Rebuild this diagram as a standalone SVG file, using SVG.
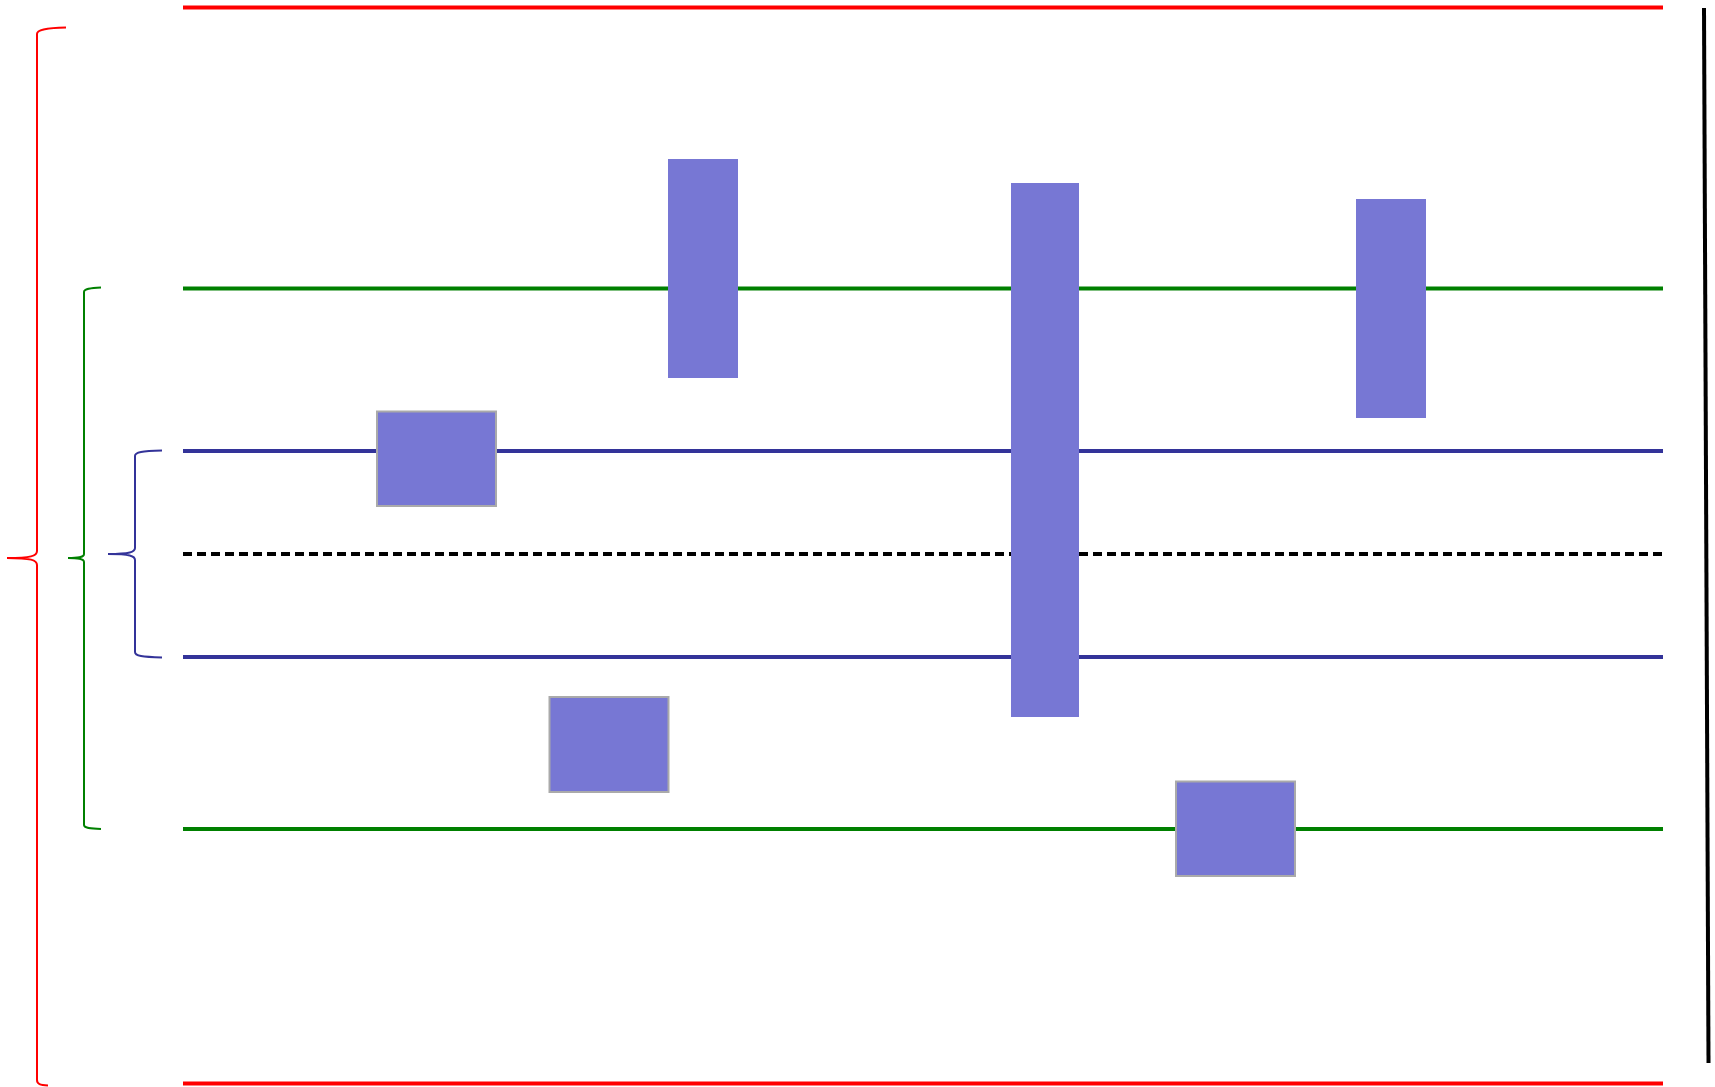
<svg xmlns="http://www.w3.org/2000/svg" width="1715" height="1087" viewBox="0 0 1715 1087">
<style>
.ln{stroke-width:4;fill:none}
.red{stroke:#ff0000}
.green{stroke:#008000}
.blue{stroke:#333399}
.dash{stroke:#000;stroke-dasharray:9,5}
.br{fill:none;stroke-width:2}
.bar{fill:#7777d4}
.box{fill:#7777d4;stroke:#aaaaaa;stroke-width:2}
</style>
<rect width="1715" height="1087" fill="#fff"/>
<g id="connectors">
<line class="ln red" x1="183" y1="7.5" x2="1663" y2="7.5"/>
<line class="ln green" x1="183" y1="288.5" x2="1663" y2="288.5"/>
<line class="ln blue" x1="183" y1="451" x2="1663" y2="451"/>
<line class="ln dash" x1="183" y1="554" x2="1663" y2="554"/>
<line class="ln blue" x1="183" y1="657" x2="1663" y2="657"/>
<line class="ln green" x1="183" y1="829" x2="1663" y2="829"/>
<line class="ln red" x1="183" y1="1083.5" x2="1663" y2="1083.5"/>
<line x1="1704" y1="8" x2="1708.5" y2="1063" stroke="#000" stroke-width="4"/>
</g>
<g id="brace-red"><path class="br red" d="M66,27.5 C45,28 37,30 37,34 L37,551 C37,556 31,558 7,558 C31,558 37,560 37,565 L37,1080 C37,1084 40,1085 48,1085.5"/></g>
<g id="brace-green"><path class="br green" d="M101,287.5 C90,288 84,289 84,292 L84,554 C84,557 80,558 68,558 C80,558 84,559 84,562 L84,825 C84,828 90,828.5 101,829"/></g>
<g id="brace-blue"><path class="br blue" d="M162,450.5 C142,451 135,452 135,456 L135,548 C135,552 130,554 108,554 C130,554 135,556 135,560 L135,652 C135,656 142,657 162,657.5"/></g>
<g id="bar1"><rect class="bar" x="668" y="159" width="70" height="219"/></g>
<g id="bar2"><rect class="bar" x="1011" y="183" width="68" height="534"/></g>
<g id="bar3"><rect class="bar" x="1356" y="199" width="70" height="219"/></g>
<g id="box1"><rect class="box" x="377" y="411.5" width="119" height="94.5"/></g>
<g id="box2"><rect class="box" x="549.5" y="697" width="119" height="95"/></g>
<g id="box3"><rect class="box" x="1176" y="781.5" width="119" height="94.5"/></g>
</svg>
